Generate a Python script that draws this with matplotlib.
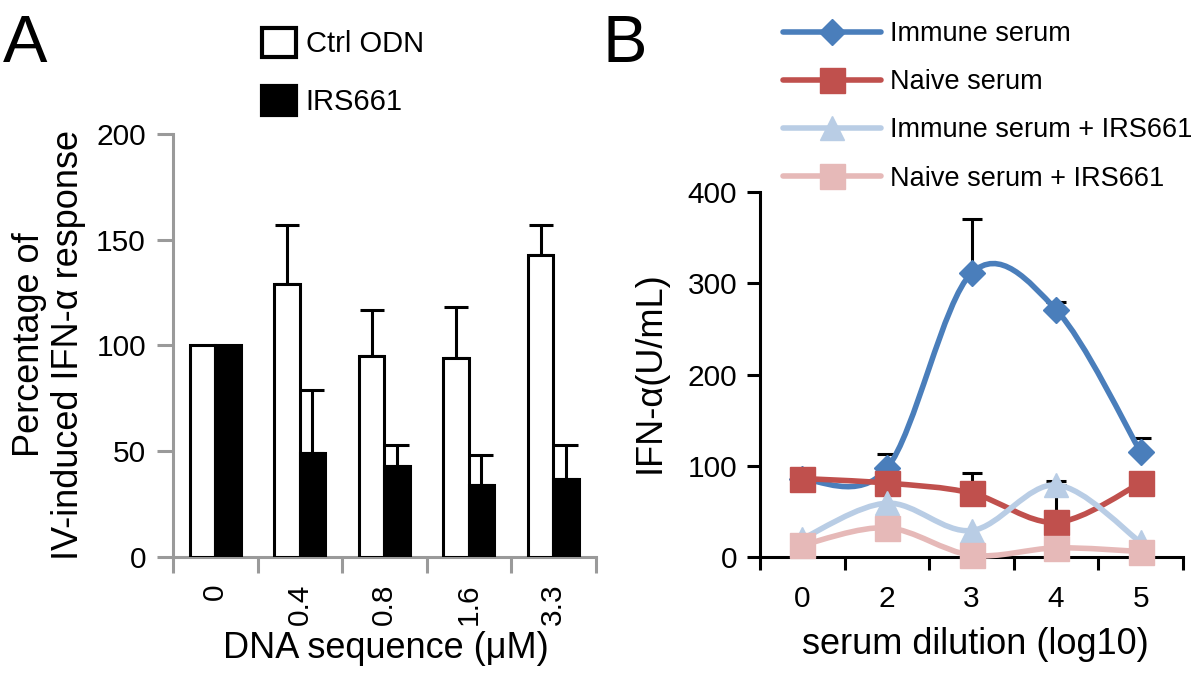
import numpy as np
import matplotlib
matplotlib.use('Agg')
import matplotlib.pyplot as plt
from matplotlib.path import Path
from matplotlib.patches import Patch, PathPatch
from matplotlib.lines import Line2D

plt.rcParams['font.family'] = ['Liberation Sans', 'DejaVu Sans']

# panel A: percentage of IV-induced IFN-a response
doses = ['0', '0.4', '0.8', '1.6', '3.3']
ctrl = [100, 129, 95, 94, 143]
ctrl_err = [0, 28, 22, 24, 14]
irs = [100, 49, 43, 34, 37]
irs_err = [0, 30, 10, 14, 16]

# panel B: IFN-a (U/mL) vs serum dilution
dilutions = ['0', '2', '3', '4', '5']
immune = [85, 97, 311, 271, 115]
immune_err = [0, 16, 59, 9, 15]
naive = [86, 81, 70, 38, 81]
naive_err = [0, 0, 22, 40, 0]
immune_irs = [20, 59, 29, 79, 16]
immune_irs_err = [0, 0, 0, 4, 0]
naive_irs = [13, 32, 2, 10, 6]
naive_irs_err = [0, 0, 0, 0, 0]

BLUE = '#4a7ebb'
RED = '#c0504d'
LBLUE = '#b9cde5'
PINK = '#e6b9b8'
GREY = '#9a9a9a'


def smooth_path(x, y):
    # Excel style smoothed line (Catmull-Rom as cubic Bezier)
    pts = np.column_stack([x, y]).astype(float)
    p = np.vstack([pts[0], pts, pts[-1]])
    verts = [pts[0]]
    codes = [Path.MOVETO]
    for i in range(len(pts) - 1):
        p0, p1, p2, p3 = p[i], p[i + 1], p[i + 2], p[i + 3]
        verts += [p1 + (p2 - p0) / 6, p2 - (p3 - p1) / 6, p2]
        codes += [Path.CURVE4] * 3
    return Path(verts, codes)


def plot_a(ax):
    x = np.arange(len(doses))
    w = 0.3
    ax.bar(x - w / 2, ctrl, w, color='white', edgecolor='black', lw=2.2, zorder=3)
    ax.bar(x + w / 2, irs, w, color='black', edgecolor='black', lw=2.2, zorder=3)
    for xs, v, e in [(x - w / 2, ctrl, ctrl_err), (x + w / 2, irs, irs_err)]:
        m = np.array(e) > 0
        ax.errorbar(xs[m], np.array(v)[m], yerr=[np.zeros(m.sum()), np.array(e)[m]],
                    fmt='none', ecolor='black', elinewidth=2.2, capsize=8.6,
                    capthick=2.2, zorder=2)

    ax.set_xlim(-0.5, len(doses) - 0.5)
    ax.set_ylim(0, 200)
    ax.set_yticks([0, 50, 100, 150, 200])
    ax.set_xticks(np.arange(-0.5, len(doses), 1))
    ax.set_xticklabels([])
    ax.set_xticks(x, minor=True)
    ax.set_xticklabels(doses, minor=True, rotation=90)
    for s in ['top', 'right']:
        ax.spines[s].set_visible(False)
    for s in ['left', 'bottom']:
        ax.spines[s].set_color(GREY)
        ax.spines[s].set_linewidth(2.2)
    ax.tick_params(axis='both', which='major', color=GREY, width=2.2, length=11.5,
                   labelsize=21.5, direction='out')
    ax.tick_params(axis='y', pad=8)
    ax.tick_params(axis='x', which='minor', length=0, pad=19, labelsize=21.5)


def plot_b(ax):
    x = np.arange(len(dilutions))
    series = [
        (immune, immune_err, BLUE, 'D', 13, 'Immune serum'),
        (naive, naive_err, RED, 's', 18, 'Naive serum'),
        (immune_irs, immune_irs_err, LBLUE, '^', 17, 'Immune serum + IRS661'),
        (naive_irs, naive_irs_err, PINK, 's', 18, 'Naive serum + IRS661'),
    ]
    handles = []
    for k, (vals, err, c, mk, ms, lab) in enumerate(series):
        z = 3 + 2 * k
        m = np.array(err) > 0
        if m.any():
            ax.errorbar(x[m], np.array(vals)[m], yerr=[np.zeros(m.sum()), np.array(err)[m]],
                        fmt='none', ecolor='black', elinewidth=2.2, capsize=7,
                        capthick=2.2, zorder=z - 0.5, clip_on=False)
        ax.add_patch(PathPatch(smooth_path(x, vals), fill=False, edgecolor=c, lw=4,
                               zorder=z, clip_on=False, capstyle='round'))
        ax.plot(x, vals, linestyle='none', marker=mk, ms=ms, color=c, mec=c,
                zorder=z + 0.5, clip_on=False)
        handles.append(Line2D([], [], color=c, lw=4, marker=mk, ms=ms, mec=c,
                              solid_capstyle='round', label=lab))

    ax.set_xlim(-0.5, len(dilutions) - 0.5)
    ax.set_ylim(0, 400)
    ax.set_yticks([0, 100, 200, 300, 400])
    ax.set_xticks(np.arange(-0.5, len(dilutions), 1))
    ax.set_xticklabels([])
    ax.set_xticks(x, minor=True)
    ax.set_xticklabels(dilutions, minor=True)
    for s in ['top', 'right']:
        ax.spines[s].set_visible(False)
    for s in ['left', 'bottom']:
        ax.spines[s].set_linewidth(2.2)
    ax.tick_params(axis='both', which='major', width=2.2, length=9.5,
                   labelsize=21.5, direction='out')
    ax.tick_params(axis='y', pad=7)
    ax.tick_params(axis='x', which='minor', length=0, pad=20, labelsize=21.5)
    return handles


def main():
    fig = plt.figure(figsize=(12, 6.75), dpi=100)
    W, H = 1200.0, 675.0

    ax_a = fig.add_axes([173 / W, 1 - 557 / H, (595.5 - 173) / W, (557 - 134) / H])
    plot_a(ax_a)
    ax_b = fig.add_axes([760 / W, 1 - 557 / H, (1183 - 760) / W, (557 - 192) / H])
    handles = plot_b(ax_b)

    fig.text(49 / W, 1 - 345 / H, 'Percentage of\nIV-induced IFN-α response', rotation=90,
             ha='center', va='center', multialignment='center', fontsize=26, linespacing=1.15)
    fig.text(386 / W, 1 - 648 / H, 'DNA sequence (μM)', ha='center', va='center', fontsize=26)
    fig.text(650 / W, 1 - 372 / H, 'IFN-α(U/mL)', rotation=90, ha='center', va='center', fontsize=26)
    fig.text(975 / W, 1 - 645 / H, 'serum dilution (log10)', ha='center', va='center', fontsize=26)

    fig.text(3 / W, 1 - 62 / H, 'A', fontsize=48, va='baseline', ha='left')
    fig.text(603 / W, 1 - 62 / H, 'B', fontsize=48, va='baseline', ha='left')

    leg_a = [Patch(facecolor='white', edgecolor='black', lw=3),
             Patch(facecolor='black', edgecolor='black', lw=3)]
    fig.legend(leg_a, ['Ctrl ODN', 'IRS661'], loc='upper left',
               bbox_to_anchor=(262 / W, 1 - 28 / H), frameon=False, fontsize=21,
               handlelength=1.15, handleheight=1.15, handletextpad=0.35,
               labelspacing=0.95, borderpad=0, borderaxespad=0)

    fig.legend(handles=handles, loc='upper left', bbox_to_anchor=(783 / W, 1 - 21 / H),
               frameon=False, fontsize=19.5, handlelength=3.6, handletextpad=0.35,
               labelspacing=0.82, borderpad=0, borderaxespad=0)

    fig.savefig('out.png', dpi=100)


if __name__ == '__main__':
    main()
